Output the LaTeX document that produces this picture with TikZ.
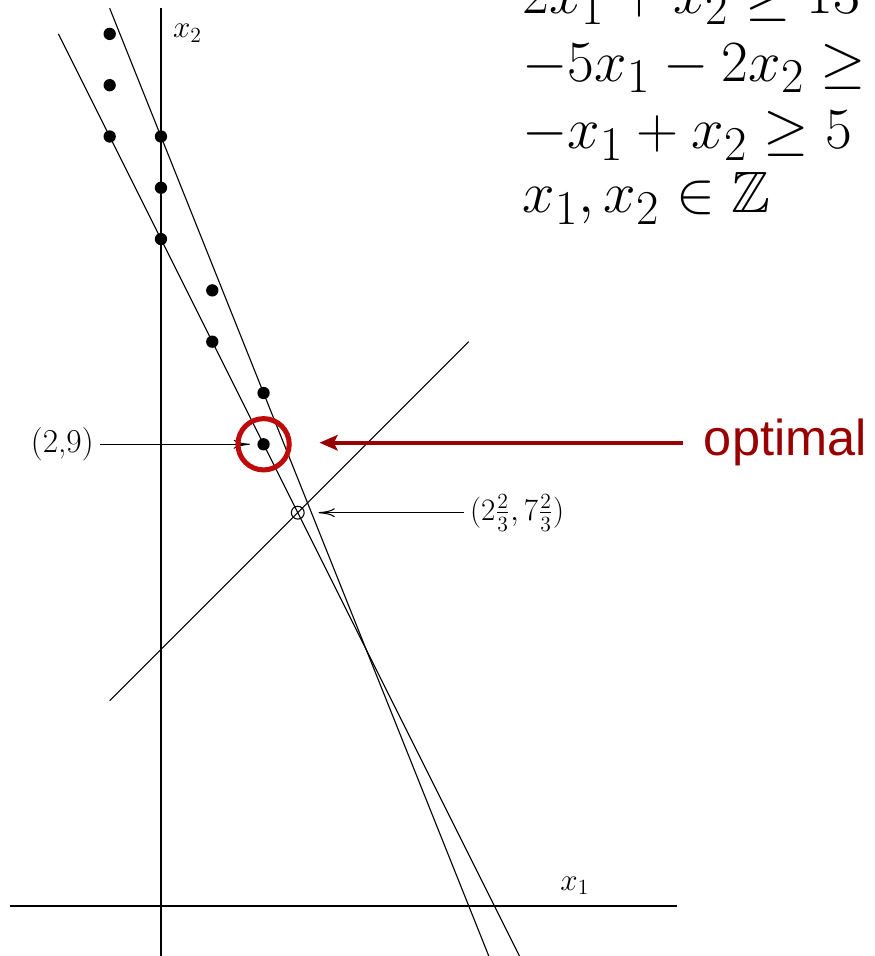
\documentclass[tikz,border=0pt]{standalone}
\usepackage{amsmath,amssymb}
\usepackage{fontspec}
\newfontfamily\tagsans{Liberation Sans}
\usepackage{tikz}
\usetikzlibrary{arrows.meta,positioning}

\definecolor{optdark}{RGB}{153,0,0}
\definecolor{optring}{RGB}{190,10,10}

\tikzset{
  bigmath/.style={anchor=base west, inner sep=0pt, font=\fontsize{24.88}{30}\selectfont,
    scale=1.3, transform shape},
  smallmath/.style={font=\fontsize{18.5}{22}\selectfont},
  intpt/.style={circle, fill, inner sep=0pt, minimum size=0.24cm},
  hull/.style={line width=0.6pt}
}

\begin{document}
\begin{tikzpicture}[x=1cm,y=1cm,>={To[length=9pt,width=5pt]}]

\clip (-3.138,-0.975) rectangle (13.918,17.661);

% axes
\coordinate (xone left) at (-2.95,0);
\coordinate (xone right) at (10.05,0);
\coordinate (xtwo top) at (0,17.5);
\coordinate (xtwo bottom) at (0,-1);
\draw[hull] (xone left) -- (xone right);
\draw[hull] (xtwo top) -- (xtwo bottom);
\node (xonelab) [smallmath, anchor=base west, inner sep=0pt] at (7.78,0.31) {$x_1$};
\node (xtwolab) [smallmath, anchor=base west, inner sep=0pt] at (0.23,16.92) {$x_2$};

% constraint lines
\coordinate (cA top) at (-2,17);
\coordinate (cA bottom) at (7,-1);
\coordinate (cB top) at (-1,17.5);
\coordinate (cB bottom) at (6.4,-1);
\coordinate (cC low) at (-1,4);
\coordinate (cC high) at (6,11);
\draw[hull] (cA top) -- (cA bottom);
\draw[hull] (cB top) -- (cB bottom);
\draw[hull] (cC low) -- (cC high);

% feasible integer points
\foreach \a/\b in {-1/17,-1/16,-1/15,0/15,0/14,0/13,1/12,1/11,2/10}
  \node [intpt] at (\a,\b) {};
\node (pt29) [intpt] at (2,9) {};

% LP vertex
\node (vert) [circle, draw, line width=0.6pt, inner sep=0pt, minimum size=0.25cm] at (8/3,23/3) {};

% labels
\node (lab29) [smallmath, anchor=east] at (-1.19,9) {(2,9)};
\draw[->,line width=0.6pt,shorten >=4pt] (lab29) -- (pt29);

\node (labvert) [smallmath, anchor=west] at (5.9,23/3) {$(2\frac{2}{3},7\frac{2}{3})$};
\draw[->,line width=0.6pt,shorten >=0.27cm] (labvert) -- (vert);

% optimum
\node (ring) [circle, draw=optring, line width=2.8pt, inner sep=0pt, minimum size=1.0cm] at (2,9) {};
\node (opt) [anchor=west, inner xsep=11.6pt, text=optdark, font=\tagsans\fontsize{28}{32}\selectfont] at (10.17,9.03) {optimal};
\draw[-{Stealth[length=10pt,width=8.5pt,inset=2pt]},optdark,line width=2.4pt,shorten >=0.54cm] (opt.west) -- (opt.west -| ring.east);

% model
\node (cone) [bigmath] at (7.04,17.40) {$2x_1 + x_2 \ge 13$};
\node (ctwo) [bigmath] at (7.04,16.07) {$-5x_1 - 2x_2 \ge{}$};
\node (cthree) [bigmath] at (7.04,14.76) {$-x_1 + x_2 \ge 5$};
\node (cfour) [bigmath] at (7.04,13.51) {$x_1, x_2 \in \mathbb{Z}$};

\end{tikzpicture}
\end{document}
